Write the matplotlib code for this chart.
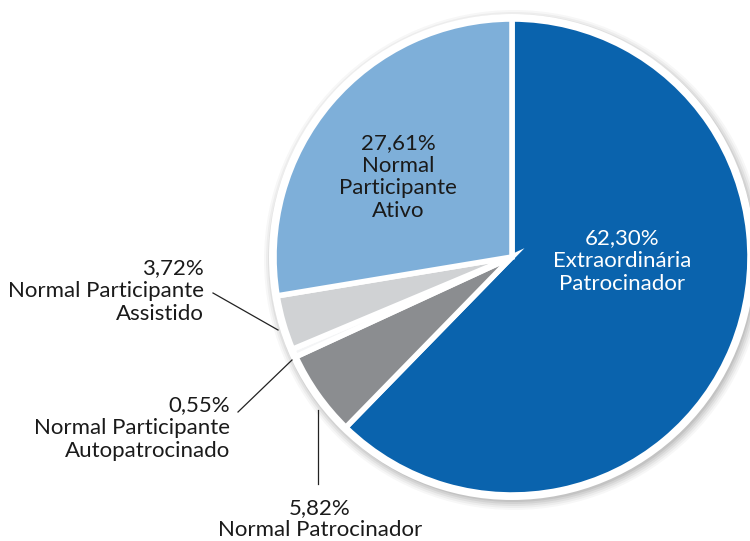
import matplotlib
matplotlib.use("Agg")
import matplotlib.pyplot as plt
from matplotlib.patches import Circle

categories = ["Extraordinária\nPatrocinador", "Normal Patrocinador",
              "Normal Participante\nAutopatrocinado", "Normal Participante\nAssistido",
              "Normal\nParticipante\nAtivo"]
values = [62.30, 5.82, 0.55, 3.72, 27.61]
pct_labels = ["62,30%", "5,82%", "0,55%", "3,72%", "27,61%"]
colors = ["#0a63ad", "#8b8d90", "#f4f5f6", "#d0d2d4", "#7eafd9"]

W, H = 750, 541
fig = plt.figure(figsize=(W / 100, H / 100), dpi=100)
ax = fig.add_axes([0, 0, 1, 1])

cx, cy, r = 512, H - 257, 238

# soft shadow
for i, a in enumerate([0.03, 0.04, 0.05, 0.06, 0.07]):
    ax.add_patch(Circle((cx + 2, cy - 3), r + 12 - i * 2, color="#000000", alpha=a, lw=0, zorder=0))
ax.add_patch(Circle((cx, cy), r + 5, color="white", lw=0, zorder=1))

wedges, _ = ax.pie(values, colors=colors, startangle=90, counterclock=False,
                   center=(cx, cy), radius=r, frame=True,
                   wedgeprops=dict(edgecolor="white", linewidth=4))
for w in wedges:
    w.set_zorder(2)
ax.set_xlim(0, W)
ax.set_ylim(0, H)
ax.set_aspect("equal")
ax.axis("off")

fam = ["Lato", "DejaVu Sans"]
fs = 16
ls = 1.17

def y(p):
    return H - p

ax.text(622, y(261), pct_labels[0] + "\n" + categories[0], ha="center", va="center",
        color="white", fontsize=fs, family=fam, linespacing=ls, zorder=5)
ax.text(398, y(177), pct_labels[4] + "\n" + categories[4], ha="center", va="center",
        color="#1a1a1a", fontsize=fs, family=fam, linespacing=ls, zorder=5)
ax.text(204, y(291), pct_labels[3] + "\n" + categories[3], ha="right", va="center",
        multialignment="right", color="#1a1a1a", fontsize=fs, family=fam, linespacing=ls, zorder=5)
ax.text(230, y(428), pct_labels[2] + "\n" + categories[2], ha="right", va="center",
        multialignment="right", color="#1a1a1a", fontsize=fs, family=fam, linespacing=ls, zorder=5)
ax.text(320, y(519), pct_labels[1] + "\n" + categories[1], ha="center", va="center",
        color="#1a1a1a", fontsize=fs, family=fam, linespacing=ls, zorder=5)

# leader lines
ax.plot([213, 278], [y(293), y(330)], color="#222222", lw=0.9, zorder=6)
ax.plot([238, 292], [y(412), y(360)], color="#222222", lw=0.9, zorder=6)
ax.plot([318, 318], [y(410), y(484)], color="#222222", lw=0.9, zorder=6)

fig.savefig("out.png", dpi=100)
